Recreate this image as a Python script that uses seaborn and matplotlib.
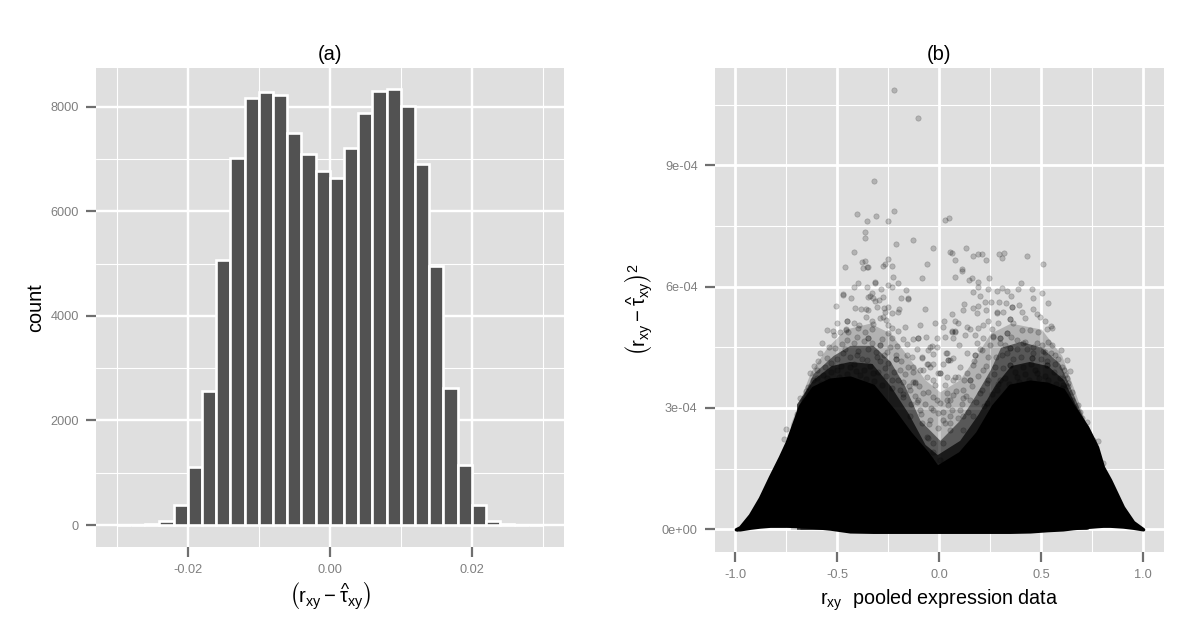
import numpy as np
import pandas as pd
import matplotlib
matplotlib.use('Agg')
import matplotlib.pyplot as plt
import seaborn as sns

# panel (a): histogram counts per 0.002 wide bin
bin_edges = [v / 1000 for v in range(-30, 31, 2)]
bin_counts = [1, 4, 12, 70, 385, 1105, 2560, 5070, 7030, 8180, 8295, 8235, 7495, 7105, 6775,
              6635, 7210, 7880, 8310, 8345, 8015, 6900, 4960, 2625, 1140, 390, 85, 15, 5, 1]
a_xticks = [-0.02, 0.0, 0.02]
a_xticklabels = ['-0.02', '0.00', '0.02']
a_yticks = [0, 2000, 4000, 6000, 8000]

# panel (b): outline of the saturated black mass (y in units of 1e-4)
core_r = [-0.997, -0.977, -0.928, -0.879, -0.830, -0.781, -0.747, -0.683, -0.619, -0.536, -0.438,
          -0.325, -0.227, -0.144, -0.060, -0.011, 0.101, 0.185, 0.263, 0.347, 0.445, 0.528,
          0.606, 0.655, 0.724, 0.773, 0.802, 0.837, 0.900, 0.950, 0.999]
core_top = [0.0, 0.05, 0.353, 0.774, 1.293, 1.788, 2.159, 3.05, 3.5, 3.7, 3.75,
            3.55, 2.95, 2.38, 1.887, 1.54, 1.887, 2.38, 3.05, 3.55, 3.65, 3.6,
            3.45, 3.05, 2.53, 2.035, 1.54, 1.22, 0.55, 0.18, 0.0]
core_low = [0.0, 0.0, 0.04, 0.07, 0.09, 0.09, 0.09, 0.08, 0.06, 0.02, -0.05,
            -0.06, -0.06, -0.06, -0.06, -0.06, -0.06, -0.06, -0.06, -0.06, -0.05, -0.02,
            0.0, 0.03, 0.06, 0.08, 0.09, 0.09, 0.07, 0.04, 0.0]

# outlines of the thinner clouds above it
dark_r = [-0.70, -0.62, -0.53, -0.44, -0.33, -0.24, -0.15, -0.07, -0.01, 0.10, 0.19, 0.27, 0.35, 0.44,
          0.53, 0.61, 0.66, 0.73]
dark_top = [3.1, 3.7, 4.05, 4.15, 4.1, 3.55, 2.85, 2.1, 1.85, 2.2, 2.85, 3.55, 4.05, 4.15, 4.05, 3.7, 3.15, 2.5]
mid_r = [-0.683, -0.619, -0.52, -0.438, -0.325, -0.24, -0.17, -0.095, 0.003, 0.10, 0.175, 0.25,
         0.30, 0.40, 0.50, 0.59, 0.66, 0.724]
mid_top = [3.12, 3.85, 4.3, 4.55, 4.55, 4.15, 3.55, 2.7, 2.2, 2.7, 3.3, 3.95, 4.5, 4.65, 4.5, 4.1, 3.3, 2.53]
outer_r = [-0.73, -0.63, -0.55, -0.46, -0.34, -0.24, -0.15, -0.07, 0.003, 0.10, 0.175, 0.25,
           0.35, 0.50, 0.60, 0.665, 0.72]
outer_top = [2.6, 3.9, 4.5, 4.95, 5.1, 4.85, 4.25, 3.7, 3.4, 3.7, 4.25, 4.85, 5.1, 4.95, 4.3, 3.4, 2.6]

# single points readable above the mass (r, squared difference in 1e-4)
sparse_pts = [
    (-0.220, 10.87), (-0.103, 10.16), (-0.322, 8.61), (-0.405, 7.79), (-0.220, 7.88), (-0.312, 7.76),
    (-0.356, 7.62), (-0.250, 7.62), (-0.363, 7.36), (-0.366, 7.20), (-0.131, 7.15), (-0.212, 7.05),
    (-0.416, 6.87), (-0.031, 6.96), (0.028, 7.66), (0.048, 7.71), (-0.250, 6.68), (-0.363, 6.64),
    (-0.380, 6.61), (-0.266, 6.55), (-0.059, 6.57), (-0.233, 6.50), (-0.274, 6.50), (-0.348, 6.49),
    (-0.356, 6.49), (-0.372, 6.46), (-0.464, 6.48), (0.053, 6.87), (0.061, 6.84), (0.132, 6.95),
    (0.164, 6.76), (0.191, 6.81), (0.208, 6.81), (0.227, 6.66), (0.079, 6.66), (0.294, 6.80),
    (0.316, 6.83), (0.307, 6.70), (0.428, 6.76), (0.510, 6.55), (0.111, 6.43),
    (-0.225, 6.25), (-0.085, 6.22), (-0.315, 6.10), (-0.315, 6.11), (-0.400, 6.10), (-0.420, 6.00),
    (-0.354, 5.98), (-0.253, 6.03), (-0.230, 6.00), (-0.202, 6.10), (-0.286, 5.94), (-0.163, 5.92),
    (-0.331, 5.85), (-0.340, 5.77), (-0.474, 5.82), (-0.474, 5.79), (-0.433, 5.73), (-0.349, 5.74),
    (-0.327, 5.71), (-0.297, 5.67), (-0.274, 5.75), (-0.313, 5.65), (-0.186, 5.72), (-0.155, 5.70),
    (-0.155, 5.71), (-0.505, 5.51), (-0.413, 5.47), (-0.382, 5.44), (-0.361, 5.44), (-0.348, 5.42),
    (-0.307, 5.49), (-0.269, 5.47), (-0.250, 5.49), (-0.264, 5.38), (-0.233, 5.34), (-0.198, 5.44),
    (-0.201, 5.37), (-0.070, 5.46), (-0.361, 5.24), (-0.274, 5.26), (-0.291, 5.22), (-0.261, 5.18),
    (-0.452, 5.15), (-0.452, 5.16), (-0.501, 5.11), (-0.416, 5.09), (-0.394, 5.05), (-0.331, 5.14),
    (-0.323, 5.07), (-0.250, 5.05), (-0.233, 4.99), (-0.168, 5.01), (-0.095, 5.04), (-0.023, 5.11),
    (0.025, 5.16), (0.020, 5.01), (-0.549, 4.93), (-0.519, 4.91), (-0.514, 4.80), (-0.487, 4.89),
    (-0.459, 4.95), (-0.459, 4.94), (-0.446, 4.89), (-0.397, 4.99), (-0.364, 4.89), (-0.331, 4.95),
    (-0.201, 4.90), (-0.250, 4.85), (-0.348, 4.72), (-0.348, 4.73), (-0.405, 4.76), (-0.454, 4.68),
    (-0.479, 4.58), (-0.233, 4.72), (-0.176, 4.70), (-0.127, 4.70), (-0.103, 4.73), (-0.065, 4.76),
    (-0.013, 4.72), (0.028, 4.76), (-0.577, 4.60), (-0.539, 4.50), (-0.511, 4.48), (-0.289, 4.56),
    (-0.289, 4.57), (-0.209, 4.53), (-0.160, 4.58), (-0.111, 4.47), (-0.037, 4.53), (-0.013, 4.52),
    (0.036, 4.35), (-0.054, 4.43), (-0.585, 4.35), (-0.593, 4.17), (-0.552, 4.23), (-0.470, 4.35),
    (-0.405, 4.31), (-0.356, 4.19), (-0.307, 4.25), (-0.258, 4.39), (-0.214, 4.20), (-0.214, 4.21),
    (-0.135, 4.25), (-0.086, 4.27), (-0.029, 4.33), (-0.062, 4.10), (0.017, 4.10), (0.044, 4.19),
    (-0.613, 4.04), (-0.634, 3.87), (-0.601, 3.73), (-0.568, 3.82), (-0.503, 3.94), (-0.438, 4.02),
    (-0.389, 3.82), (-0.323, 3.86), (-0.266, 3.98), (-0.193, 3.94), (-0.152, 4.02), (-0.095, 3.94),
    (-0.046, 4.02), (-0.005, 3.86), (-0.642, 3.51), (-0.653, 3.43), (-0.683, 3.25), (-0.699, 2.84),
    (-0.751, 2.47), (-0.763, 2.23), (-0.119, 3.63), (-0.119, 3.64), (-0.233, 3.69), (-0.176, 3.65),
    (-0.062, 3.76), (-0.021, 3.57), (0.028, 3.57), (0.036, 3.36), (-0.144, 3.45), (-0.078, 3.36),
    (-0.029, 3.28), (-0.111, 3.16), (0.003, 3.12), (0.044, 3.07), (-0.193, 3.45), (-0.005, 2.87),
    (-0.046, 2.70), (-0.094, 2.95), (0.028, 2.62), (-0.029, 2.13), (-0.062, 2.29),
    (0.111, 6.39), (0.079, 6.23), (0.147, 6.17), (0.159, 6.22), (0.242, 6.21), (0.188, 6.12),
    (0.190, 6.00), (0.402, 6.10), (0.387, 5.94), (0.237, 5.94), (0.309, 5.97), (0.453, 5.94),
    (0.165, 5.86), (0.281, 5.90), (0.333, 5.89), (0.200, 5.78), (0.350, 5.77), (0.503, 5.84),
    (0.458, 5.71), (0.224, 5.63), (0.252, 5.63), (0.531, 5.60), (0.294, 5.63), (0.327, 5.59),
    (0.121, 5.56), (0.116, 5.42), (0.188, 5.53), (0.167, 5.47), (0.186, 5.36), (0.391, 5.55),
    (0.356, 5.49), (0.356, 5.50), (0.229, 5.42), (0.281, 5.36), (0.281, 5.37), (0.314, 5.38),
    (0.061, 5.32), (0.404, 5.38), (0.420, 5.23), (0.458, 5.44), (0.477, 5.32), (0.494, 5.26),
    (0.077, 5.15), (0.093, 5.09), (0.061, 4.89), (0.061, 4.90), (0.077, 4.89), (0.077, 4.90),
    (0.134, 5.01), (0.150, 4.95), (0.188, 4.99), (0.240, 5.14), (0.216, 5.05), (0.289, 5.11),
    (0.347, 5.19), (0.347, 5.20), (0.363, 5.09), (0.518, 5.14), (0.546, 5.03), (0.554, 4.99),
    (0.526, 4.95), (0.445, 4.93), (0.485, 4.89), (0.404, 4.93), (0.330, 4.85), (0.330, 4.86),
    (0.257, 4.95), (0.265, 4.76), (0.265, 4.77), (0.298, 4.72), (0.298, 4.73), (0.069, 4.72),
    (0.126, 4.80), (0.175, 4.80), (0.216, 4.72), (0.098, 4.56), (0.183, 4.60), (0.208, 4.43),
    (0.379, 4.68), (0.420, 4.64), (0.461, 4.52), (0.502, 4.56), (0.535, 4.64), (0.551, 4.56),
    (0.595, 4.43), (0.518, 4.39), (0.322, 4.56), (0.347, 4.48), (0.347, 4.49), (0.134, 4.35),
    (0.175, 4.31), (0.175, 4.32), (0.240, 4.27), (0.306, 4.31), (0.453, 4.23), (0.453, 4.24),
    (0.567, 4.31), (0.628, 4.19), (0.567, 4.10), (0.526, 4.06), (0.526, 4.07), (0.600, 4.02),
    (0.641, 3.92), (0.616, 3.82), (0.628, 3.73), (0.632, 3.61), (0.649, 3.40), (0.608, 3.57),
    (0.682, 3.07), (0.690, 2.91), (0.722, 2.65), (0.776, 2.18), (0.755, 2.21), (0.801, 1.65),
    (0.053, 4.19), (0.102, 4.02), (0.167, 4.06), (0.216, 3.94), (0.273, 4.02), (0.347, 4.06),
    (0.347, 4.07), (0.412, 4.02), (0.477, 3.86), (0.004, 3.86), (0.077, 3.77), (0.150, 3.69),
    (0.150, 3.70), (0.232, 3.61), (0.298, 3.69), (0.379, 3.77), (0.534, 3.69), (0.118, 3.45),
    (0.200, 3.36), (0.281, 3.45), (0.052, 3.20), (-0.013, 3.20), (0.150, 3.20), (0.232, 3.12),
    (0.102, 2.95), (0.020, 2.91), (0.052, 2.62), (0.167, 2.79), (0.118, 2.46),
    (-0.103, 4.72), (-0.046, 4.52), (0.033, 4.35), (-0.086, 4.23), (-0.054, 4.10), (-0.029, 4.10),
    (-0.127, 4.02), (0.069, 4.23), (0.045, 4.19), (-0.078, 3.94), (0.093, 3.77), (0.134, 3.86),
    (-0.029, 3.69), (0.069, 3.69), (0.036, 3.77), (-0.127, 3.65), (0.004, 3.86), (-0.176, 3.28),
    (-0.103, 3.20), (-0.054, 3.40), (0.069, 3.32), (0.118, 3.24), (-0.029, 2.95), (0.053, 2.79),
    (0.118, 2.79), (-0.144, 2.79), (-0.086, 2.62), (-0.005, 2.50), (0.053, 2.46), (-0.029, 1.92),
    (0.004, 1.71), (-0.046, 1.75), (0.020, 2.13), (-0.054, 2.25),
]
# points in the crowded humps, estimated
hump_pts = [
    (-0.62, 3.7), (-0.60, 3.95), (-0.58, 3.6), (-0.56, 4.02), (-0.55, 3.75), (-0.53, 3.88), (-0.53, 4.12),
    (-0.52, 3.62), (-0.50, 4.2), (-0.49, 3.77), (-0.48, 4.03), (-0.47, 3.6), (-0.46, 4.47), (-0.45, 3.85),
    (-0.44, 4.25), (-0.43, 3.7), (-0.42, 4.6), (-0.42, 4.1), (-0.41, 3.92), (-0.40, 4.4), (-0.39, 3.62),
    (-0.38, 4.2), (-0.37, 4.65), (-0.37, 3.95), (-0.36, 3.72), (-0.35, 4.45), (-0.34, 4.05), (-0.33, 4.6),
    (-0.32, 3.67), (-0.31, 4.38), (-0.30, 3.9), (-0.29, 4.15), (-0.28, 4.7), (-0.28, 3.58), (-0.27, 4.3),
    (-0.26, 3.78), (-0.25, 4.12), (-0.24, 4.5), (-0.23, 3.5), (-0.22, 3.9), (-0.21, 4.32), (-0.20, 3.68),
    (-0.19, 4.15), (-0.18, 3.35), (-0.17, 3.85), (-0.16, 4.3), (-0.15, 3.55), (-0.14, 3.1), (-0.13, 3.9),
    (-0.12, 3.3), (-0.10, 3.55), (-0.09, 2.85), (-0.07, 3.1), (-0.05, 2.6), (-0.04, 3.0),
    (0.02, 2.7), (0.04, 3.2), (0.06, 2.95), (0.08, 3.42), (0.09, 2.75), (0.11, 3.1), (0.12, 3.7), (0.13, 3.3),
    (0.14, 2.9), (0.16, 3.55), (0.17, 4.15), (0.18, 3.15), (0.19, 3.8), (0.20, 4.45), (0.21, 3.45), (0.22, 3.05),
    (0.23, 4.05), (0.24, 3.7), (0.25, 4.55), (0.26, 3.35), (0.27, 3.85), (0.28, 4.25), (0.29, 3.6), (0.30, 4.6),
    (0.31, 4.0), (0.32, 3.75), (0.33, 4.35), (0.34, 3.6), (0.35, 4.75), (0.36, 4.2), (0.37, 3.9), (0.38, 4.45),
    (0.39, 3.65), (0.40, 4.25), (0.41, 4.6), (0.42, 3.85), (0.43, 4.45), (0.44, 3.7), (0.45, 4.1), (0.46, 4.35),
    (0.47, 3.95), (0.48, 4.6), (0.49, 3.75), (0.50, 4.2), (0.51, 4.4), (0.52, 3.8), (0.53, 4.15), (0.54, 3.55),
    (0.55, 4.35), (0.56, 3.9), (0.57, 3.6), (0.58, 4.2), (0.59, 3.75), (0.60, 3.5), (0.61, 3.95), (0.62, 3.3),
    (0.63, 3.55), (0.65, 3.2), (0.67, 2.85), (0.70, 2.75),
]
b_xticks = [-1.0, -0.5, 0.0, 0.5, 1.0]
b_xticklabels = ['-1.0', '-0.5', '0.0', '0.5', '1.0']
b_yticks = [0, 3e-4, 6e-4, 9e-4]
b_yticklabels = ['0e+00', '3e-04', '6e-04', '9e-04']

GREY_BG = '#dfdfdf'
TICK_GREY = '#6f6f6f'
LABEL_GREY = '#7f7f7f'
W, H = 1200, 635

sns.set_theme(style='darkgrid', rc={'axes.facecolor': GREY_BG, 'axes.axisbelow': True})
plt.rcParams['font.family'] = ['Liberation Sans', 'DejaVu Sans']
plt.rcParams['mathtext.fontset'] = 'custom'
plt.rcParams['mathtext.rm'] = 'Liberation Sans'
plt.rcParams['mathtext.it'] = 'Liberation Sans'
plt.rcParams['mathtext.bf'] = 'Liberation Sans'


def panel(fig, left, right, top, bottom):
    # axes box given in image pixels
    return fig.add_axes([left / W, 1 - bottom / H, (right - left) / W, (bottom - top) / H])


def style_panel(ax, title, major_lw, minor_lw):
    for spine in ax.spines.values():
        spine.set_visible(False)
    ax.grid(True, which='major', color='white', linewidth=major_lw)
    ax.grid(True, which='minor', color='white', linewidth=minor_lw)
    ax.tick_params(which='major', length=7.5, width=1.6, color=TICK_GREY, labelcolor=LABEL_GREY,
                   labelsize=9.2, pad=5, bottom=True, left=True)
    ax.tick_params(which='minor', length=0)
    ax.set_title(title, fontsize=14.5, pad=6, color='black')


fig = plt.figure(figsize=(W / 100, H / 100), dpi=100)

# (a)
ax_a = panel(fig, 96, 564, 68, 547)
hist_df = pd.DataFrame({'left': bin_edges[:-1], 'right': bin_edges[1:], 'count': bin_counts})
hist_df['mid'] = (hist_df['left'] + hist_df['right']) / 2
sns.histplot(data=hist_df, x='mid', weights='count', bins=bin_edges, color='#525252',
             alpha=1, edgecolor='white', linewidth=1.9, ax=ax_a)
ax_a.set_xlim(-0.03292, 0.0330)
ax_a.set_ylim(-421, 8746)
ax_a.set_xticks(a_xticks, a_xticklabels)
ax_a.set_yticks(a_yticks, [str(v) for v in a_yticks])
ax_a.set_xticks([-0.03, -0.01, 0.01, 0.03], minor=True)
ax_a.set_yticks([1000, 3000, 5000, 7000], minor=True)
style_panel(ax_a, '(a)', 1.75, 0.8)
ax_a.set_xlabel(r'$\left(\mathrm{r}_{\mathrm{xy}}-\widehat{\tau}_{\mathrm{xy}}\right)$', fontsize=14.6, color='black')
ax_a.xaxis.set_label_coords(0.5, -0.071)
ax_a.set_ylabel('count', fontsize=14.3, color='black')
ax_a.yaxis.set_label_coords(-0.109, 0.5)

# (b)
ax_b = panel(fig, 715, 1164, 68, 551.7)
points = pd.DataFrame(sparse_pts + hump_pts, columns=['r', 'sq'])
points['sq'] = points['sq'] * 1e-4
ax_b.fill_between(outer_r, 0, np.array(outer_top) * 1e-4, color='black', alpha=0.2, linewidth=0)
ax_b.fill_between(mid_r, 0, np.array(mid_top) * 1e-4, color='black', alpha=0.5, linewidth=0)
ax_b.fill_between(dark_r, 0, np.array(dark_top) * 1e-4, color='black', alpha=0.7, linewidth=0)
sns.scatterplot(data=points, x='r', y='sq', color='black', alpha=0.2, s=15, edgecolor='black', linewidth=0.5,
                ax=ax_b, zorder=3)
ax_b.fill_between(core_r, np.array(core_low) * 1e-4, np.array(core_top) * 1e-4, color='black', linewidth=2.5, zorder=4)
ax_b.set_xlim(-1.0995, 1.1015)
ax_b.set_ylim(-5.54e-5, 1.1408e-3)
ax_b.set_xticks(b_xticks, b_xticklabels)
ax_b.set_yticks(b_yticks, b_yticklabels)
ax_b.set_xticks([-0.75, -0.25, 0.25, 0.75], minor=True)
ax_b.set_yticks([1.5e-4, 4.5e-4, 7.5e-4, 1.05e-3], minor=True)
style_panel(ax_b, '(b)', 2.0, 0.8)
ax_b.set_xlabel(r'$\mathrm{r}_{\mathrm{xy}}$  pooled expression data', fontsize=14.2, color='black')
ax_b.xaxis.set_label_coords(0.5, -0.0734)
ax_b.set_ylabel(r'$\left(\mathrm{r}_{\mathrm{xy}}-\widehat{\tau}_{\mathrm{xy}}\right)^{2}$', fontsize=14.6, color='black')
ax_b.yaxis.set_label_coords(-0.133, 0.5)

plt.savefig('out.png', dpi=100)
plt.close()
